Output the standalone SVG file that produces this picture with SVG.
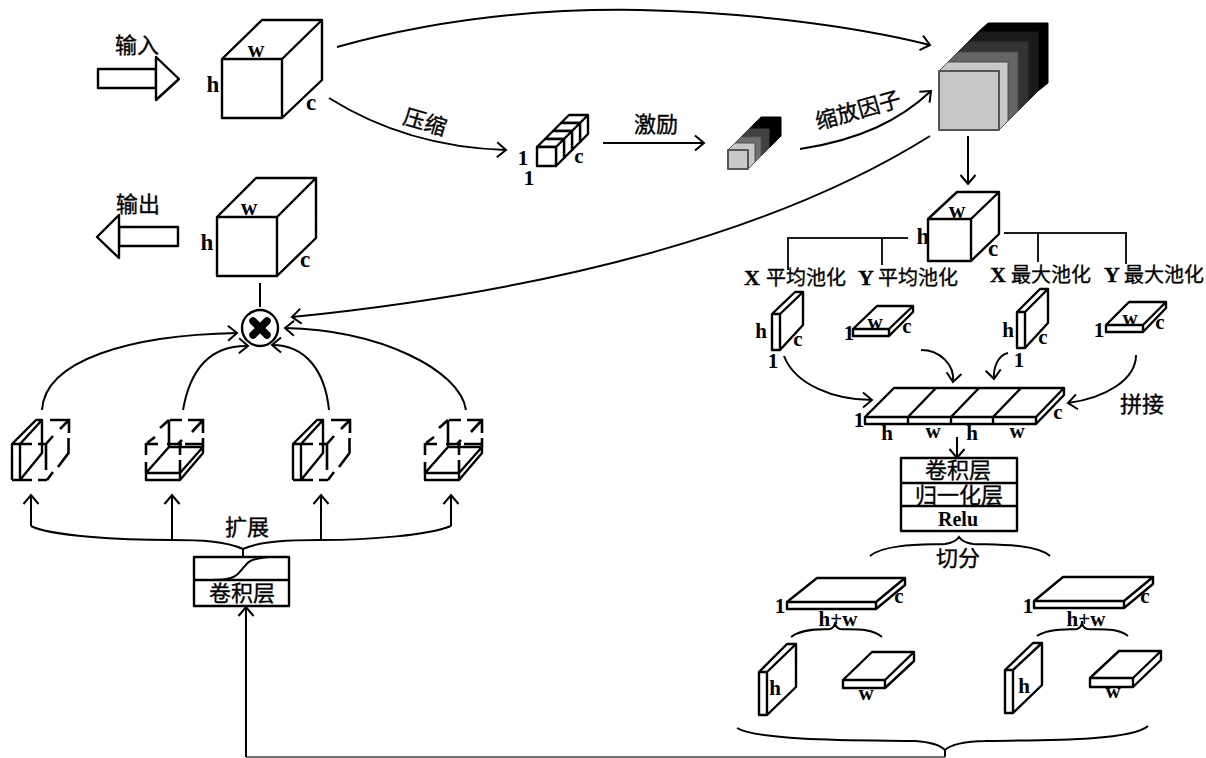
<svg xmlns="http://www.w3.org/2000/svg" width="1206" height="758" viewBox="0 0 1206 758">
<style>
.s{fill:#fff;stroke:#000;stroke-width:2.4;stroke-linejoin:round}
.o{fill:none;stroke:#000;stroke-width:2.4;stroke-linejoin:round}
.d{fill:none;stroke:#000;stroke-width:2.6;stroke-linejoin:miter}
.c{fill:none;stroke:#000;stroke-width:2;marker-end:url(#a)}
.b{fill:none;stroke:#000;stroke-width:2}
.t{fill:none;stroke:#1a1a1a;stroke-width:2}
text{fill:#000;text-anchor:middle}
.l{font-family:"Liberation Serif",serif;font-weight:700;font-size:21px}
.L{font-family:"Liberation Serif",serif;font-weight:700;font-size:23px}
.z{font-family:"Noto Sans CJK SC",sans-serif;font-weight:400;font-size:22px;stroke:#000;stroke-width:.35}
.y{font-family:"Liberation Serif","Noto Sans CJK SC",sans-serif;font-weight:400;font-size:22px;stroke:#000;stroke-width:.35}
.r{font-size:20px}
.p{font-family:"Noto Sans CJK SC",sans-serif;font-weight:400;font-size:20px;text-anchor:start;stroke:#000;stroke-width:.3}
.p tspan.m{font-family:"Liberation Serif",serif;font-weight:700;font-size:22px}
</style>
<defs>
<marker id="a" markerUnits="userSpaceOnUse" markerWidth="22" markerHeight="22" refX="11" refY="11" orient="auto" overflow="visible">
<path d="M2 3.5L11 11L2 18.5" fill="none" stroke="#000" stroke-width="2"/>
</marker>
<g id="tallDash">
<path class="o" d="M12 480V444H32 M12 480H32 M20 444V480 M12 444L36 420H42L20 444 M42 420V453L20 480"/>
<path class="d" d="M38 444H46V470 M47 480H38 M50 420H69V433 M69 420L60 429 M53 436L46 444 M68.500 438V453L58 467 M53 472L47 480"/>
</g>
<g id="flatDash">
<path class="o" d="M146 473V480H180V473H146L169 447H203L180 473 M203 447V453L180 480"/>
<path class="d" d="M146 443V455 M146 462V473 M180 445V455 M180 460V473 M170 420H182 M188 420H203V433 M147 444H158 M167 444H182 M185 444H203 M169 420V446 M147 443L155 437 M160 428L169 420 M203 420L192 432 M182 440L178 444 M203 438V447"/>
</g>
</defs>

<g id="connectors">
<path class="c" d="M337 47C420 24 520 8 640 10C740 12 850 25 930 45"/>
<path class="c" d="M329 98C380 130 440 148 506 150"/>
<path class="c" d="M603 143H704"/>
<path class="c" d="M800 149C860 140 900 120 931 91"/>
<path class="c" d="M930 136C780 230 560 290 292 317"/>
<path class="c" d="M968 136V184"/>
<path class="b" d="M260 283V307"/>
<path class="c" d="M42 410C45 360 130 335 237 333"/>
<path class="c" d="M183 410C190 370 210 345 248 346"/>
<path class="c" d="M329 410C325 370 305 345 272 345"/>
<path class="c" d="M466 410C460 370 380 330 285 328"/>
<path class="t" d="M908 238H788V270 M882 238V265 M1004 233H1126V264 M1038 233V262"/>
<path class="c" d="M784 356C795 385 835 400 872 400"/>
<path class="c" d="M921 350C940 350 955 365 953 382"/>
<path class="c" d="M1008 353C998 355 993 368 994 379"/>
<path class="c" d="M1136 355C1136 380 1105 398 1068 403"/>
<path class="c" d="M957 437V458"/>
<path class="b" d="M870 556C885 543 930 545 945 544C952 543 957 540 959 537C961 540 966 543 973 544C990 545 1035 543 1050 556"/>
<path class="b" d="M791 637C805 627 825 630 830 629C833 628 835 626 835 622C835 626 837 628 840 629C850 630 870 627 882 637"/>
<path class="b" d="M1037 636C1050 627 1072 630 1077 629C1080 628 1082 626 1082 621C1082 626 1084 628 1087 629C1097 630 1117 627 1128 636"/>
<path class="b" d="M737 728C760 742 880 740 915 741C930 742 940 745 945 750C950 745 965 741 985 741C1030 740 1130 742 1148 726"/>
<path class="b" d="M945 750V757"/>
<path d="M246 757H945" fill="none" stroke="#444" stroke-width="1.6"/>
<path class="c" d="M246 757V607"/>
<path class="b" d="M31 526C50 536 120 540 172 540C200 540 225 541 243 549C260 541 290 540 321 540C370 540 430 535 451 526"/>
<path class="b" d="M243 549V557"/>
<path class="c" d="M31 526V495"/>
<path class="c" d="M172 540V495"/>
<path class="c" d="M321 540V495"/>
<path class="c" d="M451 526V495"/>
</g>

<g id="input-arrow">
<path class="s" d="M98 69H156V88H98Z"/>
<path class="s" d="M156 57L179 79L156 100Z"/>
<text class="z" x="137" y="53">输入</text>
</g>
<g id="input-cube">
<path class="s" d="M222 59H282V118H222Z M222 59L262 20H322L282 59 M322 20V80L282 118"/>
<text class="L" x="256" y="57">w</text>
<text class="L" x="213" y="92">h</text>
<text class="L" x="311" y="110">c</text>
</g>
<g id="output-arrow">
<path class="s" d="M119 227H178V246H119Z"/>
<path class="s" d="M119 215L97 237L119 258Z"/>
<text class="z" x="138" y="212">输出</text>
</g>
<g id="output-cube">
<path class="s" d="M217 217H277V276H217Z M217 217L256 178H316L277 217 M316 178V238L277 276"/>
<text class="L" x="249" y="215">w</text>
<text class="L" x="207" y="250">h</text>
<text class="L" x="305" y="267">c</text>
</g>
<g id="squeeze-strip">
<path class="s" d="M561 123L569 115H588L580 123Z M580 123L588 115V134L580 142Z"/>
<path class="s" d="M553 131L561 123H580L572 131Z M572 131L580 123V142L572 150Z"/>
<path class="s" d="M545 139L553 131H572L564 139Z M564 139L572 131V150L564 158Z"/>
<path class="s" d="M537 147L545 139H564L556 147Z M556 147L564 139V158L556 166Z"/>
<rect class="s" x="537" y="147" width="19" height="19"/>
<text class="l" x="523" y="165">1</text>
<text class="l" x="529" y="185">1</text>
<text class="l" x="579" y="163">c</text>
<text class="z" x="425" y="130" transform="rotate(16 425 122)">压缩</text>
<text class="z" x="656" y="132">激励</text>
</g>
<g id="excite-strip" stroke-linejoin="round">
<path fill="#000" stroke="#000" d="M749 129L761 117H781V136L769 148V129Z"/>
<path fill="#404040" stroke="#404040" d="M741 137L749 129H769V148L761 156V137Z"/>
<path fill="#707070" stroke="#555" d="M735 143L741 137H761V156L755 162V143Z"/>
<path fill="#c8c8c8" stroke="#555" d="M728 150L735 143H755V162L748 169V150Z"/>
<rect x="728" y="150" width="20" height="19" fill="#c8c8c8" stroke="#555" stroke-width="2"/>
<text class="z" x="858" y="118" transform="rotate(-16 858 110)">缩放因子</text>
</g>
<g id="scaled-cube" stroke-linejoin="round">
<path fill="#000" stroke="#000" d="M978 32L988 23H1048V83L1038 91V32Z"/>
<path fill="#1a1a1a" stroke="#1a1a1a" d="M968 42L978 32H1038V91L1028 101V42Z"/>
<path fill="#333" stroke="#333" d="M958 52L968 42H1028V101L1018 111V52Z"/>
<path fill="#666" stroke="#444" d="M948 62L958 52H1018V111L1008 121V62Z"/>
<path fill="#c8c8c8" stroke="#555" d="M939 71L948 62H1008V121L999 130V71Z"/>
<rect x="939" y="71" width="60" height="59" fill="#c8c8c8" stroke="#555" stroke-width="2"/>
</g>
<g id="pool-cube">
<path class="s" d="M928 219H971V261H928Z M928 219L957 192H999L971 219 M999 192V234L971 261"/>
<text class="L" x="957" y="218">w</text>
<text class="L" x="923" y="244">h</text>
<text class="L" x="993" y="256">c</text>
</g>
<g id="pool-labels">
<text class="p" y="285"><tspan class="m" x="744">X</tspan><tspan x="766">平均池化</tspan></text>
<text class="p" y="285"><tspan class="m" x="858">Y</tspan><tspan x="878">平均池化</tspan></text>
<text class="p" y="282"><tspan class="m" x="990">X</tspan><tspan x="1011">最大池化</tspan></text>
<text class="p" y="282"><tspan class="m" x="1104">Y</tspan><tspan x="1124">最大池化</tspan></text>
</g>
<g id="x-avg">
<path class="s" d="M772 314H780V350H772Z M772 314L795 292H803L780 314 M803 292V325L780 350"/>
<text class="l" x="761" y="338">h</text><text class="l" x="798" y="346">c</text><text class="l" x="773" y="368">1</text>
</g>
<g id="y-avg">
<path class="s" d="M853 329H889V336H853Z M853 329L877 306H913L889 329 M913 306V312L889 336"/>
<text class="l" x="849" y="340">1</text><text class="l" x="875" y="329">w</text><text class="l" x="907" y="333">c</text>
</g>
<g id="x-max">
<path class="s" d="M1017 312H1025V348H1017Z M1017 312L1040 289H1048L1025 312 M1048 289V323L1025 348"/>
<text class="l" x="1008" y="337">h</text><text class="l" x="1043" y="344">c</text><text class="l" x="1019" y="367">1</text>
</g>
<g id="y-max">
<path class="s" d="M1106 325H1143V332H1106Z M1106 325L1129 302H1166L1143 325 M1166 302V308L1143 332"/>
<text class="l" x="1099" y="337">1</text><text class="l" x="1130" y="325">w</text><text class="l" x="1160" y="329">c</text>
</g>
<g id="concat-plate">
<path class="s" d="M865 417H1036V424H865Z M865 417L894 388H1064L1036 417 M1064 388V395L1036 424"/>
<path class="o" d="M908 417V424 M951 417V424 M993 417V424 M908 417L936 388 M951 417L979 388 M993 417L1021 388"/>
<text class="l" x="859" y="427">1</text><text class="l" x="887" y="440">h</text><text class="l" x="933" y="438">w</text><text class="l" x="972" y="440">h</text><text class="l" x="1017" y="438">w</text><text class="l" x="1058" y="419">c</text>
<text class="z" x="1142" y="412">拼接</text>
</g>
<g id="conv-stack">
<rect class="s" x="901" y="458" width="116" height="73"/>
<path class="o" d="M901 483H1017 M901 506H1017"/>
<text class="y" x="958" y="478">卷积层</text>
<text class="y" x="959" y="503">归一化层</text>
<text class="l r" x="958" y="526">Relu</text>
<text class="z" x="958" y="566">切分</text>
</g>
<g id="split-left">
<path class="s" d="M787 602H876V609H787Z M787 602L817 578H905L876 602 M905 578V585L876 609"/>
<text class="l" x="780" y="613">1</text><text class="l" x="899" y="603">c</text><text class="l" x="838" y="626">h+w</text>
</g>
<g id="split-right">
<path class="s" d="M1034 601H1124V608H1034Z M1034 601L1063 577H1153L1124 601 M1153 577V584L1124 608"/>
<text class="l" x="1028" y="613">1</text><text class="l" x="1145" y="603">c</text><text class="l" x="1086" y="626">h+w</text>
</g>
<g id="h-left">
<path class="s" d="M759 672H767V715H759Z M759 672L787 644H796L767 672 M796 644V687L767 715"/>
<text class="l" x="775" y="695">h</text>
</g>
<g id="w-left">
<path class="s" d="M843 680H885V688H843Z M843 680L872 652H914L885 680 M914 652V661L885 688"/>
<text class="l" x="866" y="700">w</text>
</g>
<g id="h-right">
<path class="s" d="M1005 670H1013V713H1005Z M1005 670L1033 643H1042L1013 670 M1042 643V685L1013 713"/>
<text class="l" x="1024" y="693">h</text>
</g>
<g id="w-right">
<path class="s" d="M1090 678H1133V687H1090Z M1090 678L1119 651H1161L1133 678 M1161 651V660L1133 687"/>
<text class="l" x="1113" y="698">w</text>
</g>
<g id="multiply">
<circle class="s" cx="260" cy="328" r="18"/>
<path d="M253 321L267 335M267 321L253 335" stroke="#000" stroke-width="7.500" stroke-linecap="round" fill="none"/>
</g>
<g id="expand-1"><use href="#tallDash"/></g>
<g id="expand-2"><use href="#flatDash"/></g>
<g id="expand-3"><use href="#tallDash" transform="translate(281 0)"/></g>
<g id="expand-4"><use href="#flatDash" transform="translate(279 0)"/></g>
<text class="z" x="247" y="535">扩展</text>
<g id="conv-box">
<rect class="s" x="194" y="557" width="95" height="49"/>
<path class="o" d="M194 580H289"/>
<path class="b" d="M213 580C240 580 238 572 245 566C250 558 262 558 268 557"/>
<text class="z" x="242" y="601">卷积层</text>
</g>
</svg>
